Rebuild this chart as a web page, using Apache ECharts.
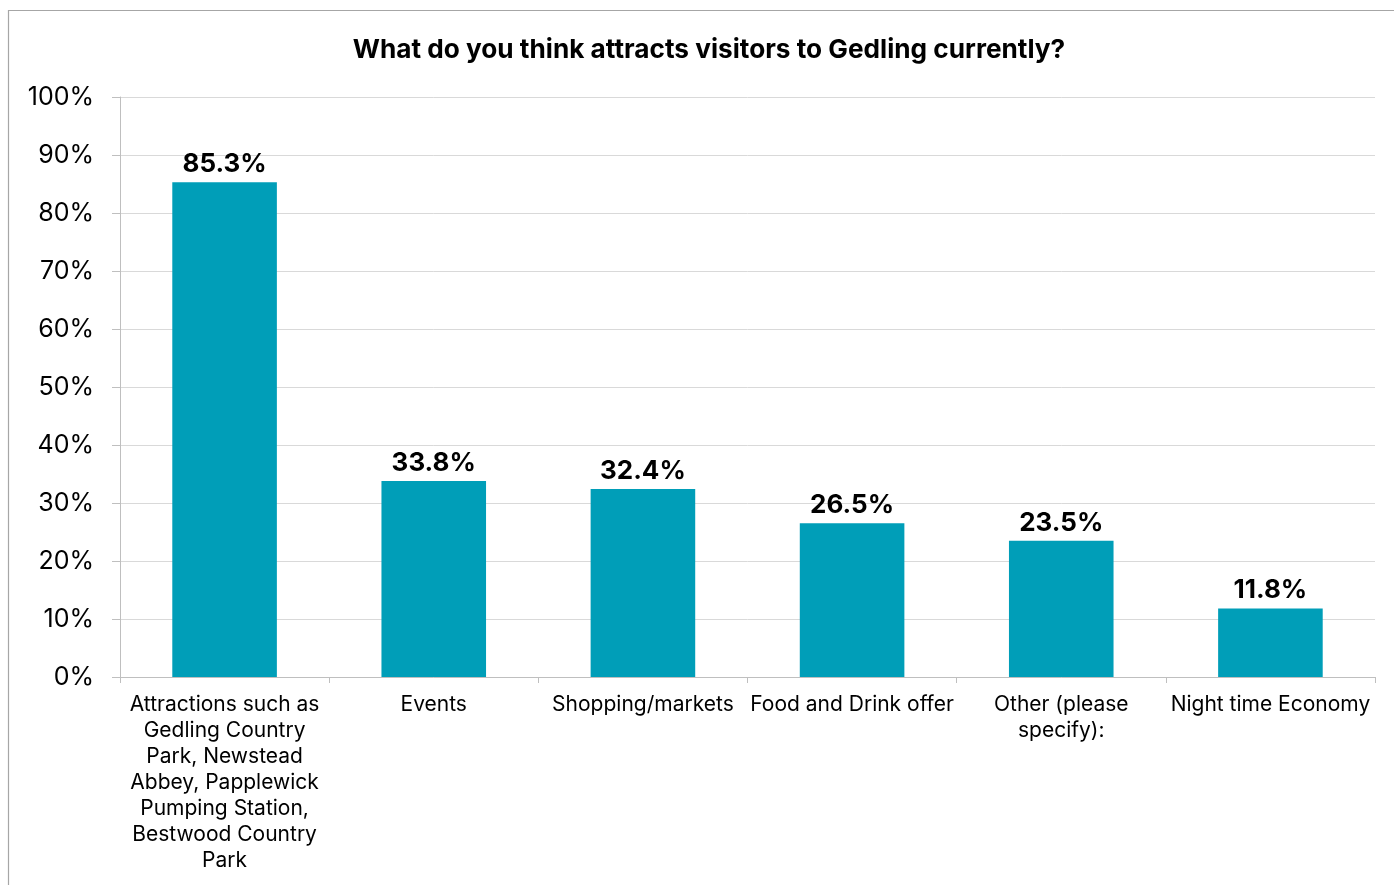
<!DOCTYPE html>
<html>
<head>
<meta charset="utf-8">
<script src="https://cdn.jsdelivr.net/npm/echarts@6/dist/echarts.min.js"></script>
<style>
html,body{margin:0;padding:0;background:#fff;}
#c{width:1394px;height:885px;}
</style>
</head>
<body>
<div id="c"></div>
<script>
const categories = [
  "Attractions such as\nGedling Country\nPark, Newstead\nAbbey, Papplewick\nPumping Station,\nBestwood Country\nPark",
  "Events",
  "Shopping/markets",
  "Food and Drink offer",
  "Other (please\nspecify):",
  "Night time Economy"
];
const values = [0.853, 0.338, 0.324, 0.265, 0.235, 0.118];
const yTicks = { min: 0, max: 1, interval: 0.1 };
const titleText = "What do you think attracts visitors to Gedling currently?";

const FONT = "Inter, 'Liberation Sans', Arial, sans-serif";
const chart = echarts.init(document.getElementById('c'), null, {renderer: 'canvas'});
chart.setOption({
  animation: false,
  backgroundColor: '#ffffff',
  graphic: [{
    type: 'rect',
    shape: {x: 8.5, y: 10.5, width: 1500, height: 1000},
    style: {fill: 'none', stroke: '#a6a6a6', lineWidth: 1.2},
    silent: true
  }],
  title: {
    text: titleText,
    left: 704, top: 32, textAlign: 'center',
    textStyle: {fontFamily: FONT, fontSize: 26.2, fontWeight: 'bold', color: '#000'}
  },
  grid: {left: 120, right: 19, top: 97, bottom: 208, containLabel: false},
  xAxis: {
    type: 'category',
    data: categories,
    axisLine: {lineStyle: {color: '#bfbfbf', width: 1}},
    axisTick: {show: true, alignWithLabel: false, length: 6, lineStyle: {color: '#bfbfbf'}},
    axisLabel: {
      interval: 0, margin: 15,
      fontFamily: FONT, fontSize: 21, color: '#000', lineHeight: 26, align: 'center'
    }
  },
  yAxis: {
    type: 'value',
    min: yTicks.min, max: yTicks.max, interval: yTicks.interval,
    axisLine: {show: true, lineStyle: {color: '#bfbfbf', width: 1}},
    axisTick: {show: true, length: 8, inside: false, lineStyle: {color: '#bfbfbf'}},
    splitLine: {lineStyle: {color: '#d9d9d9', width: 1}},
    axisLabel: {
      margin: 26,
      fontFamily: FONT, fontSize: 25, color: '#000',
      formatter: v => Math.round(v * 100) + '%'
    }
  },
  series: [{
    type: 'bar',
    data: values,
    barWidth: '50%',
    itemStyle: {color: '#009EB8'},
    label: {
      show: true, position: 'top', distance: 5,
      fontFamily: FONT, fontSize: 26, fontWeight: 'bold', color: '#000',
      formatter: p => (p.value * 100).toFixed(1) + '%'
    }
  }]
});
</script>
</body>
</html>
